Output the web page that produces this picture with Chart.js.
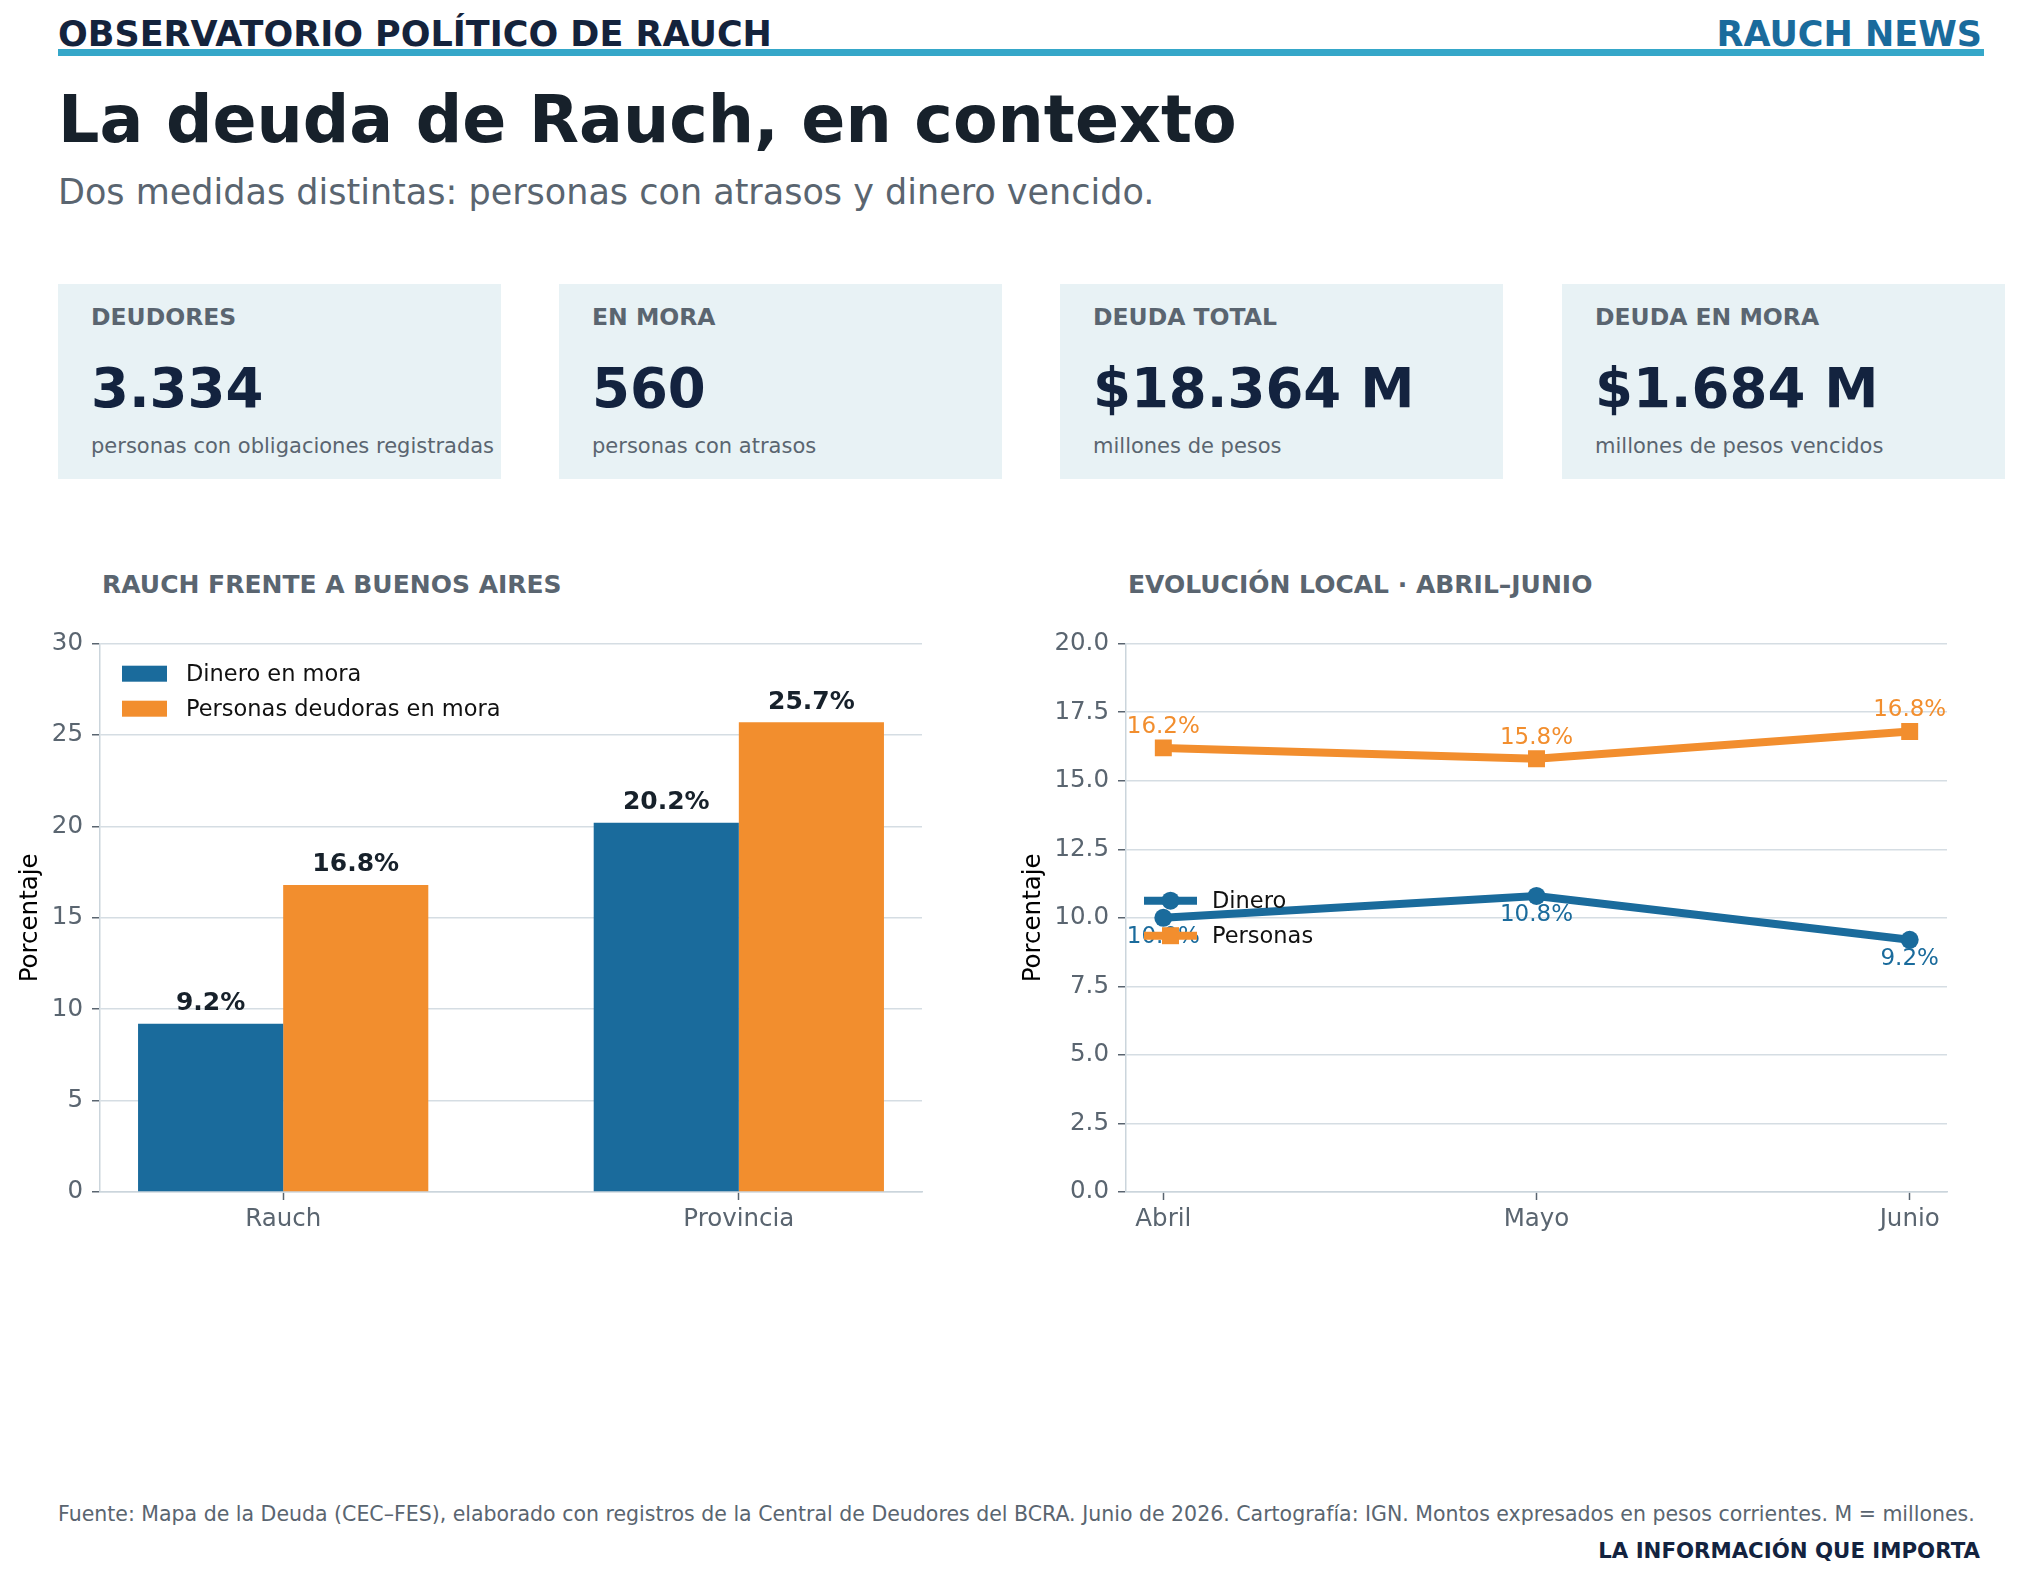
<!DOCTYPE html>
<html lang="es">
<head>
<meta charset="utf-8">
<script src="https://cdn.jsdelivr.net/npm/chart.js@4.4.1/dist/chart.umd.min.js"></script>
<style>
  html, body { margin:0; padding:0; background:#ffffff; }
  body { width:2022px; height:1579px; position:relative; overflow:hidden; font-family:"DejaVu Sans", sans-serif; }
  .abs { position:absolute; white-space:nowrap; }
  .card { position:absolute; top:284px; width:443px; height:195px; background:#e8f2f5; }
  .card .lbl { position:absolute; left:33px; top:22px; font-size:23.5px; line-height:23.5px; font-weight:bold; color:#5a6570; white-space:nowrap; }
  .card .val { position:absolute; left:33px; top:77px; font-size:54.5px; line-height:54.5px; font-weight:bold; color:#13233f; white-space:nowrap; }
  .card .sub { position:absolute; left:33px; top:152px; font-size:21px; line-height:21px; color:#5a6570; white-space:nowrap; }
  canvas { position:absolute; }
</style>
</head>
<body>
<div class="abs" style="left:58px; top:17px; font-size:35px; line-height:35px; font-weight:bold; color:#14233c;">OBSERVATORIO POLÍTICO DE RAUCH</div>
<div class="abs" style="right:40px; top:17px; font-size:35px; line-height:35px; font-weight:bold; color:#1a6b9c;">RAUCH NEWS</div>
<div class="abs" style="left:58px; top:49px; width:1926px; height:7px; background:#35a7c9;"></div>
<div class="abs" style="left:58px; top:87px; font-size:65px; line-height:65px; font-weight:bold; color:#17212b;">La deuda de Rauch, en contexto</div>
<div class="abs" style="left:58px; top:175px; font-size:35px; line-height:35px; color:#5a6570;">Dos medidas distintas: personas con atrasos y dinero vencido.</div>

<div class="card" style="left:58px;"><div class="lbl">DEUDORES</div><div class="val">3.334</div><div class="sub">personas con obligaciones registradas</div></div>
<div class="card" style="left:559px;"><div class="lbl">EN MORA</div><div class="val">560</div><div class="sub">personas con atrasos</div></div>
<div class="card" style="left:1060px;"><div class="lbl">DEUDA TOTAL</div><div class="val">$18.364 M</div><div class="sub">millones de pesos</div></div>
<div class="card" style="left:1562px;"><div class="lbl">DEUDA EN MORA</div><div class="val">$1.684 M</div><div class="sub">millones de pesos vencidos</div></div>

<div class="abs" style="left:102px; top:572px; font-size:25px; line-height:25px; font-weight:bold; color:#5a6570;">RAUCH FRENTE A BUENOS AIRES</div>
<div class="abs" style="left:1128px; top:572px; font-size:25px; line-height:25px; font-weight:bold; color:#5a6570;">EVOLUCIÓN LOCAL · ABRIL–JUNIO</div>

<canvas id="bar" width="960" height="640" style="left:0px; top:620px; width:960px; height:640px;"></canvas>
<canvas id="line" width="1000" height="640" style="left:1000px; top:620px; width:1000px; height:640px;"></canvas>

<div class="abs" style="left:58px; top:1504px; font-size:20.5px; line-height:20.5px; color:#5a6570;">Fuente: Mapa de la Deuda (CEC–FES), elaborado con registros de la Central de Deudores del BCRA. Junio de 2026. Cartografía: IGN. Montos expresados en pesos corrientes. M = millones.</div>
<div class="abs" style="right:42px; top:1540px; font-size:21.3px; line-height:21.3px; font-weight:bold; color:#13233f;">LA INFORMACIÓN QUE IMPORTA</div>

<script>
// ---- Data ----
const barCategories = ["Rauch", "Provincia"];
const dineroEnMora = [9.2, 20.2];
const personasEnMora = [16.8, 25.7];
const barSeriesNames = ["Dinero en mora", "Personas deudoras en mora"];
const barYTicks = [0, 5, 10, 15, 20, 25, 30];

const months = ["Abril", "Mayo", "Junio"];
const dineroMensual = [10.0, 10.8, 9.2];
const personasMensual = [16.2, 15.8, 16.8];
const lineSeriesNames = ["Dinero", "Personas"];
const lineYTicks = [0, 2.5, 5, 7.5, 10, 12.5, 15, 17.5, 20];

// ---- Style ----
const BLUE = "#1a6b9c";
const ORANGE = "#f28e2e";
const GRID = "#d5dde3";
const AXIS = "#cbd5dc";
const TICKTXT = "#5a6570";
const FONT = "DejaVu Sans";
const TICKSIZE = 24.5;

Chart.defaults.font.family = FONT;
Chart.defaults.animation = false;

function yAxis(width, ticksArr, fmt, titlePad) {
  return {
    type: "linear",
    min: ticksArr[0], max: ticksArr[ticksArr.length - 1],
    afterBuildTicks: (ax) => { ax.ticks = ticksArr.map(v => ({ value: v })); },
    afterFit: (ax) => { ax.width = width; },
    grid: { color: GRID, lineWidth: 1.5, tickLength: 8, tickColor: TICKTXT, tickWidth: 1.5 },
    border: { display: true, color: AXIS, width: 1.5 },
    ticks: { color: TICKTXT, font: { size: TICKSIZE }, padding: 9, callback: fmt },
    title: { display: true, text: "Porcentaje", color: "#000", font: { size: TICKSIZE }, padding: { top: titlePad, bottom: 0 } }
  };
}
function xAxis(labels, min, max) {
  return {
    type: "linear",
    offset: false,
    min: min, max: max,
    afterBuildTicks: (ax) => { ax.ticks = labels.map((_, i) => ({ value: i })); },
    afterFit: (ax) => { ax.height = 50; },
    grid: { display: true, offset: false, drawOnChartArea: false, drawTicks: true, tickLength: 8, tickColor: TICKTXT, tickWidth: 1.5 },
    border: { display: true, color: AXIS, width: 1.5 },
    ticks: { color: TICKTXT, font: { size: TICKSIZE }, padding: 5, maxRotation: 0, autoSkip: false, callback: (v) => labels[v] }
  };
}

// Bar labels + legend plugin
const barDecor = {
  id: "barDecor",
  afterDatasetsDraw(chart) {
    const ctx = chart.ctx;
    ctx.save();
    ctx.font = "bold 25px '" + FONT + "'";
    ctx.fillStyle = "#17212b";
    ctx.textAlign = "center";
    ctx.textBaseline = "middle";
    chart.data.datasets.forEach((ds, di) => {
      chart.getDatasetMeta(di).data.forEach((el, i) => {
        ctx.fillText(ds.data[i].y.toFixed(1) + "%", el.x, el.y - 20);
      });
    });
    // legend
    const a = chart.chartArea;
    const colors = [BLUE, ORANGE];
    barSeriesNames.forEach((name, i) => {
      const cy = a.top + 30 + 35 * i;
      ctx.fillStyle = colors[i];
      ctx.fillRect(a.left + 22, cy - 8, 45, 16);
      ctx.fillStyle = "#111";
      ctx.font = "22.5px '" + FONT + "'";
      ctx.textAlign = "left";
      ctx.fillText(name, a.left + 86, cy + 1);
    });
    ctx.restore();
  }
};

new Chart(document.getElementById("bar"), {
  type: "bar",
  data: {
    datasets: [
      { label: barSeriesNames[0], data: dineroEnMora.map((v, i) => ({ x: i, y: v })), backgroundColor: BLUE, borderWidth: 0 },
      { label: barSeriesNames[1], data: personasEnMora.map((v, i) => ({ x: i, y: v })), backgroundColor: ORANGE, borderWidth: 0 }
    ]
  },
  options: {
    responsive: false,
    maintainAspectRatio: false,
    categoryPercentage: 0.637,
    barPercentage: 1.0,
    layout: { padding: { left: 0, top: 21, right: 38, bottom: 18 } },
    plugins: { legend: { display: false }, tooltip: { enabled: false } },
    scales: {
      x: xAxis(barCategories, -0.402, 1.402),
      y: yAxis(100, barYTicks, (v) => String(v), 16)
    }
  },
  plugins: [barDecor]
});

// Line labels + legend plugin
const lineDecor = {
  id: "lineDecor",
  afterDatasetsDraw(chart) {
    const ctx = chart.ctx;
    ctx.save();
    ctx.font = "23px '" + FONT + "'";
    ctx.textAlign = "center";
    ctx.textBaseline = "middle";
    chart.data.datasets.forEach((ds, di) => {
      ctx.fillStyle = ds.borderColor;
      const off = ds.label === "Personas" ? -21 : 19;
      chart.getDatasetMeta(di).data.forEach((el, i) => {
        ctx.fillText(ds.data[i].y.toFixed(1) + "%", el.x, el.y + off);
      });
    });
    ctx.restore();
  },
  afterDraw(chart) {
    const ctx = chart.ctx;
    const a = chart.chartArea;
    ctx.save();
    const colors = [BLUE, ORANGE];
    lineSeriesNames.forEach((name, i) => {
      const cy = a.top + 257 + 35 * i;
      const x0 = a.left + 18, x1 = a.left + 71, xm = (x0 + x1) / 2;
      ctx.strokeStyle = colors[i];
      ctx.lineWidth = 8;
      ctx.beginPath(); ctx.moveTo(x0, cy); ctx.lineTo(x1, cy); ctx.stroke();
      ctx.fillStyle = colors[i];
      if (i === 0) { ctx.beginPath(); ctx.arc(xm, cy, 9, 0, Math.PI * 2); ctx.fill(); }
      else { ctx.fillRect(xm - 8.5, cy - 8.5, 17, 17); }
      ctx.fillStyle = "#111";
      ctx.font = "22.5px '" + FONT + "'";
      ctx.textAlign = "left";
      ctx.textBaseline = "middle";
      ctx.fillText(name, a.left + 86, cy + 1);
    });
    ctx.restore();
  }
};

new Chart(document.getElementById("line"), {
  type: "line",
  data: {
    datasets: [
      { label: lineSeriesNames[0], data: dineroMensual.map((v, i) => ({ x: i, y: v })), borderColor: BLUE, backgroundColor: BLUE,
        borderWidth: 8, pointStyle: "circle", pointRadius: 9, pointBorderWidth: 0, pointBackgroundColor: BLUE, tension: 0 },
      { label: lineSeriesNames[1], data: personasMensual.map((v, i) => ({ x: i, y: v })), borderColor: ORANGE, backgroundColor: ORANGE,
        borderWidth: 8, pointStyle: "rect", pointRadius: 12, pointBorderWidth: 0, pointBackgroundColor: ORANGE, tension: 0 }
    ]
  },
  options: {
    responsive: false,
    maintainAspectRatio: false,
    layout: { padding: { left: 0, top: 21, right: 53, bottom: 18 } },
    plugins: { legend: { display: false }, tooltip: { enabled: false } },
    scales: {
      x: xAxis(months, -0.1, 2.1),
      y: yAxis(126, lineYTicks, (v) => Number(v).toFixed(1), 19)
    }
  },
  plugins: [lineDecor]
});
</script>
</body>
</html>
